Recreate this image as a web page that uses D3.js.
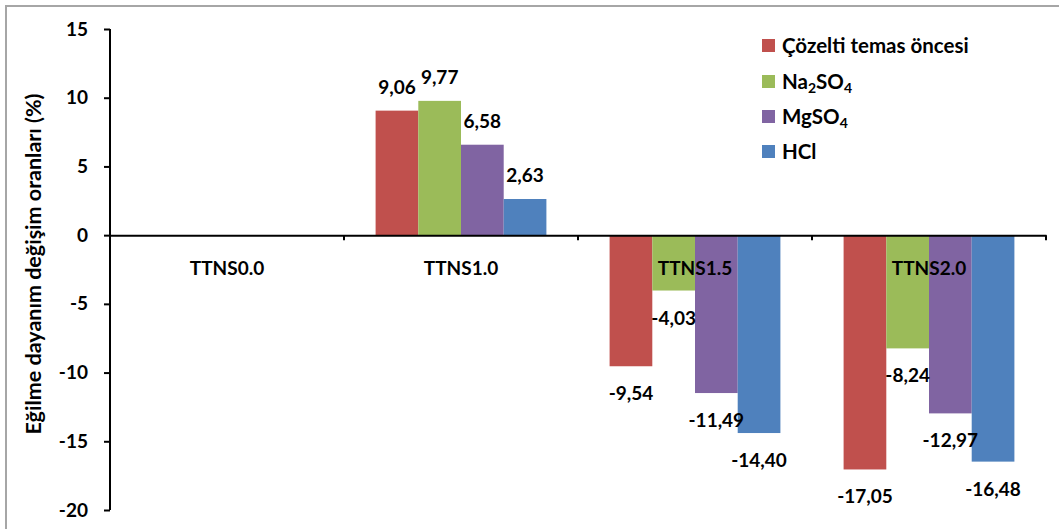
<!DOCTYPE html>
<html><head><meta charset="utf-8">
<script src="https://cdn.jsdelivr.net/npm/d3@7"></script>
<style>
html,body{margin:0;padding:0;background:#fff;}
text{font-family:Lato,"Open Sans",sans-serif;font-weight:bold;fill:#000;}
</style></head>
<body>
<svg id="chart" width="1059" height="529"></svg>
<script>
const categories = ["TTNS0.0","TTNS1.0","TTNS1.5","TTNS2.0"];
const seriesNames = ["Çözelti temas öncesi","Na2SO4","MgSO4","HCl"];
const seriesColors = ["#C0504D","#9BBB59","#8064A2","#4F81BD"];
const sCozelti = [null, 9.06, -9.54, -17.05];
const sNa2SO4 = [null, 9.77, -4.03, -8.24];
const sMgSO4 = [null, 6.58, -11.49, -12.97];
const sHCl = [null, 2.63, -14.40, -16.48];
const seriesValues = [sCozelti, sNa2SO4, sMgSO4, sHCl];
const yTicks = [15,10,5,0,-5,-10,-15,-20];
const yTitle = "Eğilme dayanım değişim oranları (%)";

const svg = d3.select("#chart");
// frame
svg.append("rect").attr("x",6).attr("y",6).attr("width",1070).attr("height",540)
  .attr("fill","none").attr("stroke","#a6a6a6").attr("stroke-width",2);

const y = d3.scaleLinear().domain([-20,15]).range([510,29]);
const x0 = d3.scaleBand().domain(categories).range([110,1046]).padding(0);
const x1 = d3.scaleBand().domain(seriesNames).range([0,x0.bandwidth()]).paddingInner(0).paddingOuter(0.74);

const fmt = v => d3.format(".2f")(v).replace(".", ",").replace("\u2212","-");

const flat = [];
seriesNames.forEach((s,si)=>{
  categories.forEach((c,ci)=>{
    const v = seriesValues[si][ci];
    if(v!==null) flat.push({s, si, c, v});
  });
});

// bars
svg.append("g").selectAll("rect").data(flat).join("rect")
  .attr("x", d=>x0(d.c)+x1(d.s))
  .attr("width", x1.bandwidth())
  .attr("y", d=>y(Math.max(0,d.v)))
  .attr("height", d=>Math.abs(y(d.v)-y(0)))
  .attr("fill", d=>seriesColors[d.si]);

// y axis
const yAxis = svg.append("g").attr("transform","translate(110,0)")
  .call(d3.axisLeft(y).tickValues(yTicks).tickSize(6).tickPadding(16).tickFormat(d=>String(d)));
yAxis.select(".domain").attr("stroke","#000").attr("stroke-width",2).attr("d","M0,29V510");
yAxis.selectAll(".tick line").attr("stroke","#000").attr("stroke-width",2);
yAxis.selectAll(".tick text").style("font-size","19px").style("font-family","Lato,sans-serif").style("font-weight","bold").attr("fill","#000");

// x axis at zero
const xAxis = svg.append("g").attr("transform",`translate(0,${y(0)})`)
  .call(d3.axisBottom(x0).tickSize(0).tickPadding(26));
xAxis.select(".domain").attr("stroke","#000").attr("stroke-width",2);
xAxis.selectAll(".tick text").style("font-size","19px").style("font-family","Lato,sans-serif").style("font-weight","bold").attr("fill","#000");
const bounds = categories.map(c=>x0(c)).concat([x0.range()[1]]);
xAxis.selectAll("line.bt").data(bounds).join("line").attr("class","bt")
  .attr("x1",d=>d).attr("x2",d=>d).attr("y1",0).attr("y2",5)
  .attr("stroke","#000").attr("stroke-width",2);

// value labels on top of everything
svg.append("g").selectAll("text").data(flat).join("text")
  .attr("x", d=>x0(d.c)+x1(d.s)+x1.bandwidth()/2)
  .attr("y", d=> d.v>=0 ? y(d.v)-17 : y(d.v)+34)
  .attr("text-anchor","middle")
  .style("font-size","19px")
  .text(d=>fmt(d.v));

// y title
svg.append("text").attr("transform","translate(41,264) rotate(-90)")
  .attr("text-anchor","middle").style("font-size","21.5px").text(yTitle);

// legend
const legendY = [46,82,117,152];
const lg = svg.append("g");
seriesNames.forEach((s,i)=>{
  lg.append("rect").attr("x",762).attr("y",legendY[i]-7).attr("width",13).attr("height",13).attr("fill",seriesColors[i]);
  const t = lg.append("text").attr("x",782).attr("y",legendY[i]+7).style("font-size","20.5px");
  const parts = s.split(/(\d)/).filter(p=>p!=="");
  parts.forEach(p=>{
    if(/^\d$/.test(p)) t.append("tspan").attr("baseline-shift","-25%").style("font-size","14px").text(p);
    else t.append("tspan").text(p);
  });
});
</script>
</body></html>
